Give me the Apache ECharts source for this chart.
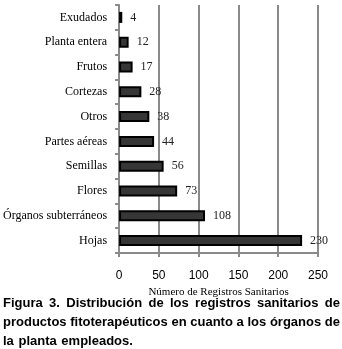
<!DOCTYPE html>
<html>
<head>
<meta charset="utf-8">
<script src="https://cdn.jsdelivr.net/npm/echarts@6/dist/echarts.min.js"></script>
<style>
  html, body { margin: 0; padding: 0; background: #fff; }
  #chart { width: 342px; height: 349px; }
</style>
</head>
<body>
<div id="chart"></div>
<script>
// Plant organs used in registered phytotherapeutic products
const organs = ['Exudados', 'Planta entera', 'Frutos', 'Cortezas', 'Otros',
  'Partes aéreas', 'Semillas', 'Flores', 'Órganos subterráneos', 'Hojas'];
const registros = [4, 12, 17, 28, 38, 44, 56, 73, 108, 230];
const xTicks = [0, 50, 100, 150, 200, 250];

const axisTitle = 'Número de Registros Sanitarios';
const captionLines = [
  'Figura 3. Distribución de los registros sanitarios de',
  'productos fitoterapéuticos en cuanto a los órganos de',
  'la planta empleados.'
];

const captionFont = 'bold 13px "Liberation Sans", Arial, sans-serif';
const captionLeft = 3, captionRight = 340;
const captionY = [303.5, 322.5, 341];

// Lay out caption words; all but the last line are justified
const measureCtx = document.createElement('canvas').getContext('2d');
measureCtx.font = captionFont;
const captionGraphics = [];
captionLines.forEach((line, i) => {
  const words = line.split(' ');
  const widths = words.map(w => measureCtx.measureText(w).width);
  const total = widths.reduce((a, b) => a + b, 0);
  const justify = i < captionLines.length - 1;
  const gap = justify ? (captionRight - captionLeft - total) / (words.length - 1)
                      : measureCtx.measureText(' ').width + 1;
  let x = captionLeft;
  words.forEach((w, k) => {
    captionGraphics.push({
      type: 'text', x: x, y: captionY[i],
      style: { text: w, font: captionFont, fill: '#000', align: 'left', verticalAlign: 'middle' }
    });
    x += widths[k] + gap;
  });
});

const chart = echarts.init(document.getElementById('chart'), null, { renderer: 'canvas' });
chart.setOption({
  animation: false,
  backgroundColor: '#fff',
  grid: { left: 118, right: 24, top: 5, bottom: 96, containLabel: false },
  xAxis: {
    type: 'value', min: 0, max: 250, interval: 50,
    name: axisTitle, nameLocation: 'middle', nameGap: 26,
    nameTextStyle: { fontFamily: '"Liberation Serif", "Times New Roman", serif', fontSize: 11, color: '#000' },
    axisLine: { show: true, lineStyle: { color: '#8a8a8a', width: 2 } },
    axisTick: { show: true, length: 4, lineStyle: { color: '#8a8a8a', width: 2 } },
    axisLabel: {
      margin: 17, color: '#000', fontSize: 12,
      fontFamily: '"Liberation Sans", Arial, sans-serif',
      formatter: v => xTicks.includes(v) ? String(v) : ''
    },
    splitLine: { show: true, lineStyle: { color: '#8a8a8a', width: 2 } }
  },
  yAxis: {
    type: 'category', data: organs, inverse: true,
    axisLine: { show: true, lineStyle: { color: '#8a8a8a', width: 2 } },
    axisTick: { show: true, length: 4, inside: false, lineStyle: { color: '#8a8a8a', width: 2 } },
    axisLabel: {
      margin: 12, color: '#000', fontSize: 12,
      fontFamily: '"Liberation Serif", "Times New Roman", serif'
    },
    splitLine: { show: false }
  },
  series: [{
    type: 'bar', data: registros, barWidth: 11,
    itemStyle: { color: '#363636', borderColor: '#000', borderWidth: 2 },
    label: {
      show: true, position: 'right', distance: 8,
      color: '#222', fontSize: 12,
      fontFamily: '"Liberation Serif", "Times New Roman", serif'
    }
  }],
  graphic: captionGraphics
});
</script>
</body>
</html>
